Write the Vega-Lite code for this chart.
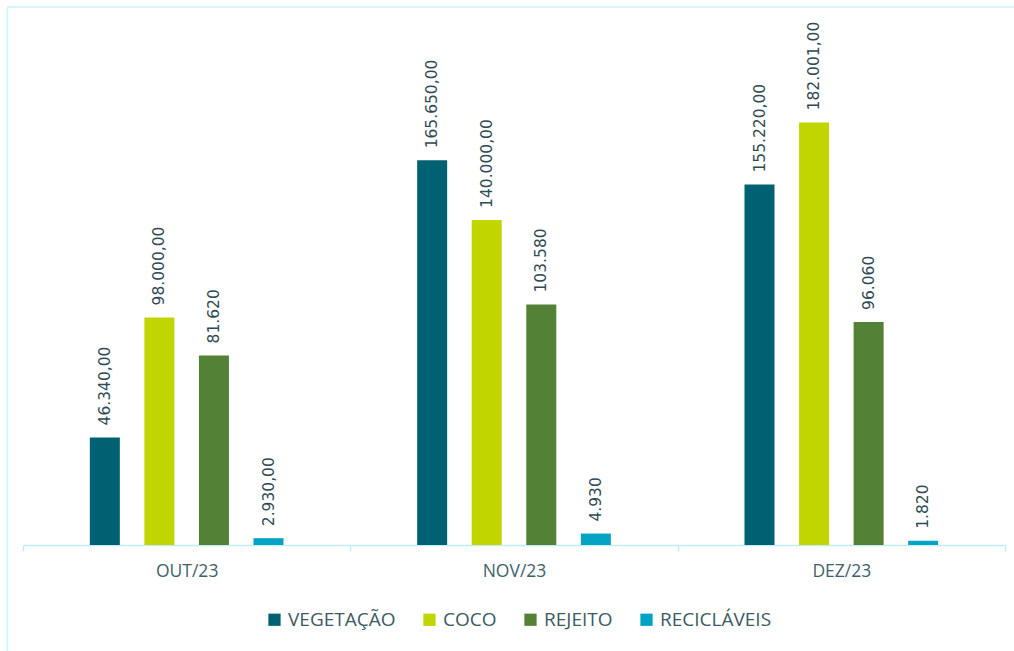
{
  "$schema": "https://vega.github.io/schema/vega-lite/v6.json",
  "autosize": {"type": "none"},
  "padding": {"left": 7, "top": 7, "right": 0, "bottom": 0},
  "width": 1007,
  "height": 644,
  "background": "white",
  "config": {"view": {"stroke": null}},
  "data": {"values": [
    {"mes": "OUT/23", "tipo": "VEGETAÇÃO", "valor": 46340, "rotulo": "46.340,00"},
    {"mes": "OUT/23", "tipo": "COCO", "valor": 98000, "rotulo": "98.000,00"},
    {"mes": "OUT/23", "tipo": "REJEITO", "valor": 81620, "rotulo": "81.620"},
    {"mes": "OUT/23", "tipo": "RECICLÁVEIS", "valor": 2930, "rotulo": "2.930,00"},
    {"mes": "NOV/23", "tipo": "VEGETAÇÃO", "valor": 165650, "rotulo": "165.650,00"},
    {"mes": "NOV/23", "tipo": "COCO", "valor": 140000, "rotulo": "140.000,00"},
    {"mes": "NOV/23", "tipo": "REJEITO", "valor": 103580, "rotulo": "103.580"},
    {"mes": "NOV/23", "tipo": "RECICLÁVEIS", "valor": 4930, "rotulo": "4.930"},
    {"mes": "DEZ/23", "tipo": "VEGETAÇÃO", "valor": 155220, "rotulo": "155.220,00"},
    {"mes": "DEZ/23", "tipo": "COCO", "valor": 182001, "rotulo": "182.001,00"},
    {"mes": "DEZ/23", "tipo": "REJEITO", "valor": 96060, "rotulo": "96.060"},
    {"mes": "DEZ/23", "tipo": "RECICLÁVEIS", "valor": 1820, "rotulo": "1.820"}
  ]},
  "encoding": {
    "x": {
      "field": "mes", "type": "nominal",
      "sort": ["OUT/23", "NOV/23", "DEZ/23"],
      "scale": {"range": [16, 998], "paddingInner": 0, "paddingOuter": 0},
      "axis": {
        "orient": "bottom", "offset": -106, "title": null, "labelAngle": 0,
        "domainColor": "#c3edf5", "domainWidth": 1.5,
        "tickColor": "#c3edf5", "tickWidth": 1.5, "tickSize": 6, "tickBand": "extent",
        "labelFont": "Open Sans", "labelFontSize": 17.5, "labelColor": "#3e616c", "labelPadding": 11
      }
    },
    "xOffset": {
      "field": "tipo", "type": "nominal",
      "sort": ["VEGETAÇÃO", "COCO", "REJEITO", "RECICLÁVEIS"],
      "scale": {"paddingInner": 0, "paddingOuter": 1}
    },
    "y": {
      "field": "valor", "type": "quantitative",
      "scale": {"domain": [-45650, 231700], "nice": false, "zero": false},
      "axis": {"title": null, "labels": false, "ticks": false, "grid": false, "domain": true, "domainColor": "#ccf3f9", "domainWidth": 1.5}
    }
  },
  "layer": [
    {
      "data": {"values": [{"topo": 231700}]},
      "mark": {"type": "rule", "color": "#ccf3f9", "strokeWidth": 1.5},
      "encoding": {"x": null, "xOffset": null, "y": {"field": "topo", "type": "quantitative"}}
    },
    {
      "mark": {"type": "bar", "width": 30},
      "encoding": {
        "y2": {"datum": 0},
        "color": {
          "field": "tipo", "type": "nominal",
          "sort": ["VEGETAÇÃO", "COCO", "REJEITO", "RECICLÁVEIS"],
          "scale": {"domain": ["VEGETAÇÃO", "COCO", "REJEITO", "RECICLÁVEIS"], "range": ["#006173", "#c1d600", "#538135", "#03a3c6"]},
          "legend": {
            "orient": "none", "legendX": 258, "legendY": 603, "direction": "horizontal", "title": null,
            "symbolType": "square", "symbolSize": 150, "symbolStrokeWidth": 0,
            "labelFont": "Open Sans", "labelFontSize": 19, "labelColor": "#3d5a63",
            "labelOffset": 4, "columnPadding": 24
          }
        }
      }
    },
    {
      "mark": {"type": "text", "angle": 270, "align": "left", "baseline": "middle", "dx": 12, "font": "DejaVu Sans", "fontSize": 15.5, "color": "#2f4a53"},
      "encoding": {"text": {"field": "rotulo", "type": "nominal"}}
    }
  ]
}
